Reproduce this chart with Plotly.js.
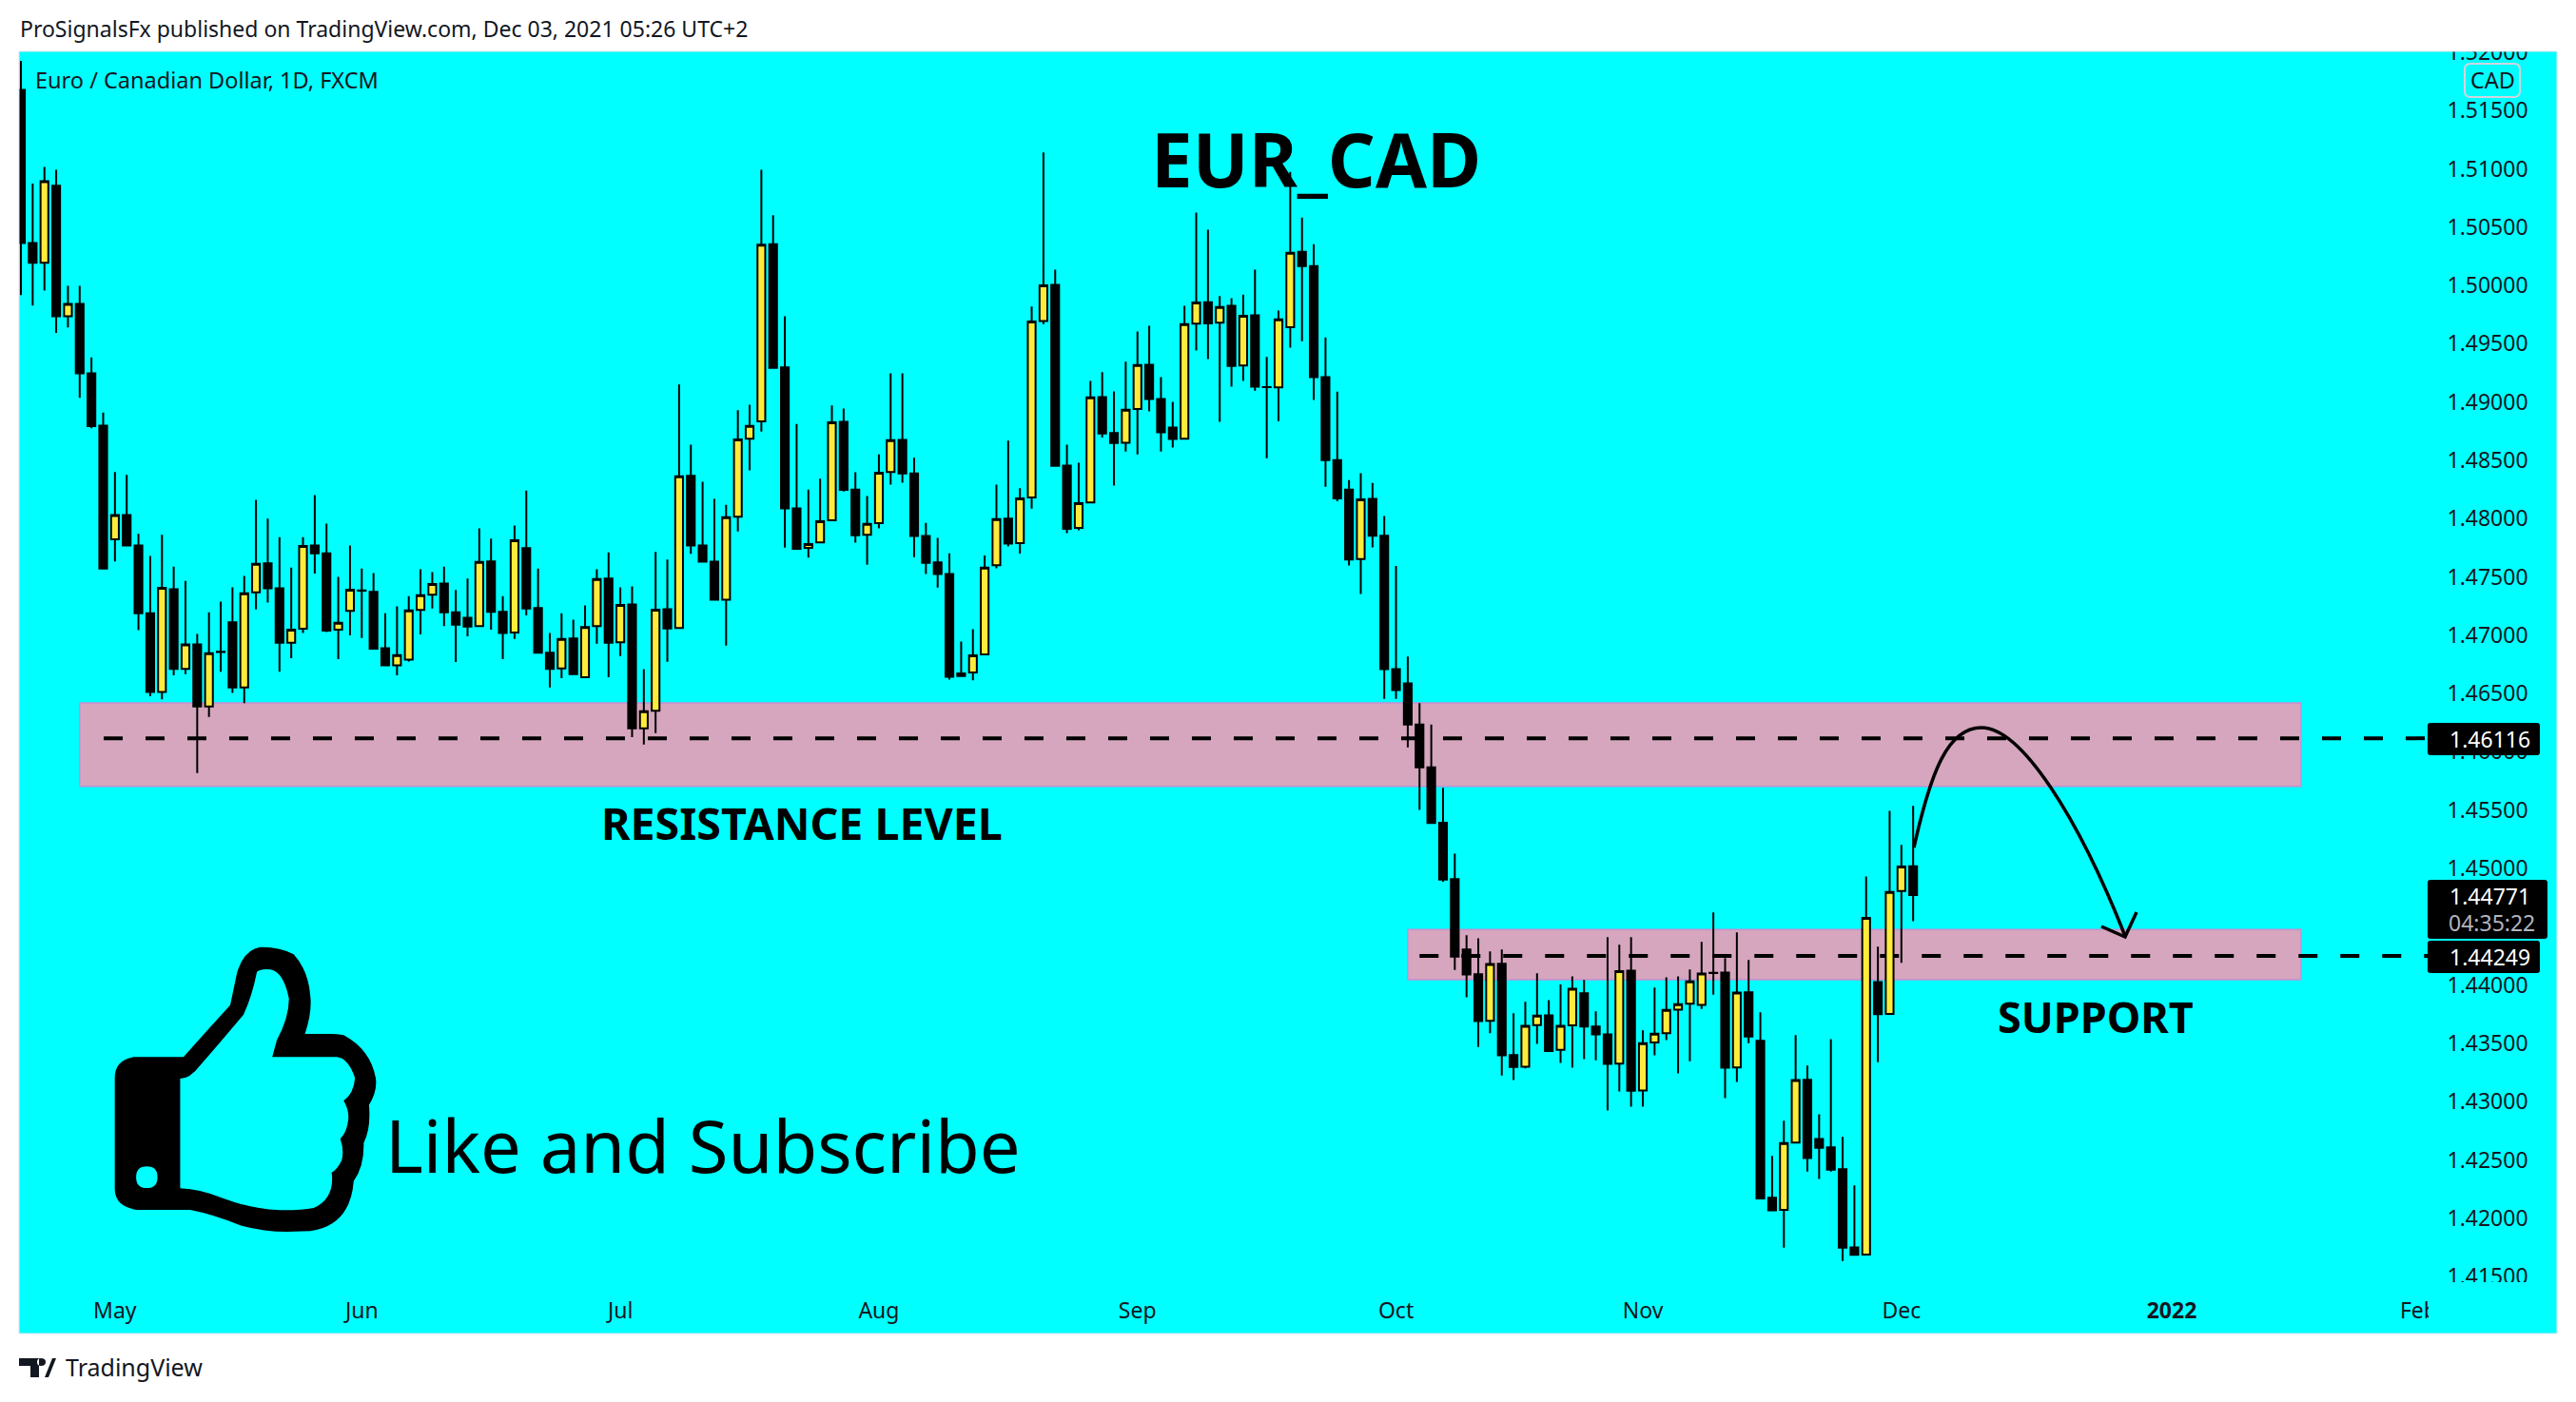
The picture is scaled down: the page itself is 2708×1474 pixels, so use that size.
<!DOCTYPE html>
<html><head><meta charset="utf-8">
<script src="https://cdn.plot.ly/plotly-3.0.1.min.js"></script>
<style>html,body{margin:0;padding:0;background:#fff}#c{width:2708px;height:1474px}</style></head>
<body><div id="c"></div>
<script>
const open_ = [
1.51676,1.50364,1.50194,1.50854,1.49735,1.49842,1.49245,1.48798,1.47822,1.48031,
1.47770,1.47189,1.46513,1.47395,1.46711,1.46920,1.46389,1.46857,1.47110,1.46552,
1.47367,1.47616,1.47402,1.46936,1.47055,1.47770,1.47703,1.47047,1.47209,1.47383,
1.47371,1.46889,1.46742,1.46790,1.47217,1.47347,1.47442,1.47197,1.47149,1.47078,
1.47632,1.47201,1.47023,1.47746,1.47232,1.46849,1.46715,1.46972,1.46639,1.47078,
1.47485,1.46940,1.47264,1.46201,1.46351,1.47223,1.47061,1.48366,1.47769,1.47631,
1.47305,1.48016,1.48685,1.48833,1.50354,1.49296,1.48088,1.47748,1.47796,1.47985,
1.48829,1.48249,1.47861,1.47961,1.48400,1.48675,1.48387,1.47851,1.47624,1.47525,
1.46649,1.46680,1.46835,1.47600,1.47999,1.47789,1.48181,1.49695,1.50004,1.48455,
1.47920,1.48139,1.49042,1.48733,1.48651,1.48939,1.49320,1.49025,1.48781,1.48685,
1.49671,1.49856,1.49681,1.49825,1.49314,1.49743,1.49128,1.49125,1.49642,1.50287,
1.50166,1.49213,1.48502,1.48248,1.47653,1.48169,1.47852,1.46708,1.46587,1.46234,
1.45867,1.45392,1.44908,1.44305,1.44092,1.43693,1.44183,1.43399,1.43300,1.43655,
1.43740,1.43443,1.43653,1.43929,1.43644,1.43577,1.43326,1.44124,1.43096,1.43507,
1.43586,1.43789,1.43839,1.43830,1.44104,1.44107,1.43294,1.43938,1.43521,1.42176,
1.42071,1.42648,1.43186,1.42680,1.42607,1.42420,1.41750,1.41689,1.44025,1.43752,
1.44806,1.45019];
const high_ = [
1.51925,1.50874,1.51016,1.50992,1.49996,1.49996,1.49383,1.48909,1.48399,1.48375,
1.47869,1.47679,1.47861,1.47588,1.47466,1.47011,1.47197,1.47288,1.47410,1.47509,
1.48161,1.47999,1.47841,1.47580,1.47841,1.48201,1.47956,1.47501,1.47770,1.47572,
1.47533,1.47189,1.47248,1.47335,1.47565,1.47541,1.47588,1.47387,1.47485,1.47916,
1.47829,1.47335,1.47940,1.48241,1.47572,1.47019,1.47189,1.47134,1.47256,1.47565,
1.47711,1.47410,1.47418,1.46708,1.47714,1.47648,1.49149,1.48634,1.48315,1.48170,
1.48119,1.48929,1.48977,1.50992,1.50601,1.49736,1.48812,1.48249,1.48342,1.48970,
1.48943,1.48397,1.48194,1.48551,1.49245,1.49245,1.48521,1.47964,1.47834,1.47703,
1.46945,1.47051,1.47683,1.48291,1.48668,1.48260,1.49818,1.51140,1.50134,1.48634,
1.48479,1.49180,1.49255,1.49090,1.49345,1.49605,1.49653,1.49214,1.49001,1.49825,
1.50625,1.50477,1.49908,1.49890,1.49921,1.50134,1.49386,1.49784,1.50973,1.50582,
1.50353,1.49554,1.49088,1.48331,1.48389,1.48306,1.48023,1.47594,1.46816,1.46417,
1.46234,1.45692,1.45127,1.44427,1.44401,1.44288,1.44305,1.43757,1.43856,1.44101,
1.43871,1.44005,1.44075,1.44043,1.43775,1.44410,1.44346,1.44410,1.43612,1.43979,
1.44066,1.44075,1.44133,1.44369,1.44623,1.44232,1.44451,1.44215,1.43766,1.42534,
1.42837,1.43571,1.43309,1.42892,1.43536,1.42697,1.42281,1.44931,1.44328,1.45494,
1.45202,1.45537];
const low_ = [
1.49917,1.49826,1.49956,1.49593,1.49640,1.49035,1.48774,1.47572,1.47632,1.47762,
1.47043,1.46477,1.46450,1.46655,1.46667,1.45818,1.46299,1.46687,1.46505,1.46418,
1.47221,1.47280,1.46687,1.46802,1.47019,1.47529,1.47027,1.46794,1.46999,1.46976,
1.46877,1.46734,1.46655,1.46774,1.47007,1.47229,1.47078,1.46770,1.46991,1.47078,
1.47047,1.46794,1.46968,1.47169,1.46849,1.46552,1.46632,1.46667,1.46639,1.46928,
1.46639,1.46821,1.46126,1.46063,1.46161,1.46773,1.47061,1.47697,1.47631,1.47305,
1.46910,1.47889,1.48414,1.48747,1.49293,1.47751,1.47734,1.47666,1.47796,1.47985,
1.48232,1.47793,1.47604,1.47916,1.48291,1.48308,1.47669,1.47525,1.47408,1.46619,
1.46643,1.46612,1.46835,1.47573,1.47762,1.47700,1.48085,1.49667,1.48452,1.47875,
1.47899,1.48139,1.48696,1.48284,1.48575,1.48551,1.48919,1.48575,1.48610,1.48685,
1.49441,1.49369,1.48829,1.49132,1.49180,1.49097,1.48517,1.48836,1.49467,1.49521,
1.49018,1.48273,1.48148,1.47598,1.47353,1.47752,1.46454,1.46454,1.46038,1.45501,
1.45381,1.44885,1.44130,1.43894,1.43469,1.43586,1.43224,1.43184,1.43285,1.43495,
1.43428,1.43332,1.43291,1.43364,1.43355,1.42924,1.43087,1.42956,1.42956,1.43396,
1.43527,1.43242,1.43347,1.43795,1.43918,1.43029,1.43169,1.43501,1.42161,1.42068,
1.41747,1.42642,1.42400,1.42336,1.42400,1.41634,1.41686,1.41689,1.43338,1.43752,
1.44191,1.44547];
const close_ = [
1.50364,1.50194,1.50893,1.49735,1.49842,1.49245,1.48794,1.47572,1.48031,1.47770,
1.47189,1.46513,1.47406,1.46711,1.46920,1.46389,1.46845,1.46856,1.46552,1.47359,
1.47612,1.47402,1.46936,1.47047,1.47766,1.47703,1.47039,1.47106,1.47391,1.47382,
1.46885,1.46742,1.46829,1.47213,1.47343,1.47438,1.47197,1.47090,1.47074,1.47628,
1.47201,1.47019,1.47814,1.47229,1.46849,1.46711,1.46968,1.46667,1.47070,1.47482,
1.46936,1.47260,1.46201,1.46348,1.47219,1.47058,1.48363,1.47769,1.47631,1.47305,
1.48012,1.48678,1.48795,1.50350,1.49293,1.48088,1.47741,1.47782,1.47978,1.48826,
1.48246,1.47858,1.47954,1.48394,1.48672,1.48387,1.47851,1.47621,1.47525,1.46643,
1.46673,1.46828,1.47580,1.47995,1.47786,1.48174,1.49691,1.50000,1.48452,1.47913,
1.48133,1.49039,1.48730,1.48648,1.48933,1.49317,1.49025,1.48740,1.48682,1.49667,
1.49853,1.49674,1.49815,1.49310,1.49739,1.49132,1.49127,1.49708,1.50279,1.50166,
1.49213,1.48502,1.48173,1.47648,1.48164,1.47852,1.46708,1.46529,1.46234,1.45867,
1.45389,1.44905,1.44244,1.44090,1.43690,1.44180,1.43396,1.43297,1.43650,1.43737,
1.43434,1.43650,1.43967,1.43644,1.43577,1.43323,1.44119,1.43093,1.43501,1.43583,
1.43787,1.43836,1.44031,1.44098,1.44103,1.43291,1.43935,1.43559,1.42170,1.42068,
1.42645,1.43184,1.42516,1.42604,1.42417,1.41747,1.41686,1.44576,1.43749,1.44797,
1.45016,1.44771];
const priceTicks = [1.415,1.42,1.425,1.43,1.435,1.44,1.445,1.45,1.455,1.46,1.465,1.47,1.475,1.48,1.485,1.49,1.495,1.5,1.505,1.51,1.515,1.52];
const monthBars = [8,29,51,73,95,117,138,160,183,204];
const monthLabels = ['May','Jun','Jul','Aug','Sep','Oct','Nov','Dec','<b>2022</b>','Feb'];
const resistanceZone = [1.45704,1.46419];
const supportZone = [1.44045,1.44475];
const resistanceLevel = 1.46116, supportLevel = 1.44249, lastPrice = 1.44771;
const countdown = '04:35:22';
const bars = open_.map((_, i) => i);

const W=2708,H=1474,L=20,R=2688,T=54,B=1402;
const FONT='"Noto Sans", sans-serif', INK='#131722';
const px=x=>(x-L)/(R-L), py=y=>(B-y)/(B-T);
function draw(str){return str.replace(/(-?[\d.]+),(-?[\d.]+)/g,(m,a,b)=>px(+a).toFixed(6)+','+py(+b).toFixed(6));}
function round(x0,y0,x1,y1,r){return draw(`M${x0+r},${y0} L${x1-r},${y0} Q${x1},${y0} ${x1},${y0+r} L${x1},${y1-r} Q${x1},${y1} ${x1-r},${y1} L${x0+r},${y1} Q${x0},${y1} ${x0},${y1-r} L${x0},${y0+r} Q${x0},${y0} ${x0+r},${y0} Z`);}
function icon(str){
  return str.replace(/(-?[\d.]+),(-?[\d.]+)/g,(m,a,b)=>px(a/1.4255).toFixed(6)+','+py(960+b/3).toFixed(6));
}
const thumb = icon(`M200,454 Q172,465 172,520 L172,870 Q172,925 205,936 L285,936 Q320,950 360,985 Q395,1005 430,1005 L465,1003 Q525,985 530,845 Q546,800 545,725 Q556,680 553,605 Q566,560 563,520 Q555,430 515,385 Q505,381 495,381 L457,381 Q468,310 465,260 Q462,180 440,130 Q420,106 390,107 Q365,115 355,190 L345,290 Q310,370 275,454 Z
M270,522 Q285,522 300,480 Q325,420 365,320 Q378,260 385,185 Q392,174 405,178 Q425,185 433,270 Q433,330 415,400 L408,454 L505,454 Q522,458 532,520 Q530,570 515,592 Q523,620 522,650 Q520,690 510,712 Q516,750 512,780 Q505,810 497,818 Q502,900 470,930 Q450,938 420,937 Q380,935 335,900 Q300,870 270,868 Z
M204,833 Q204,799 220,799 Q236,799 236,833 Q236,867 220,867 Q204,867 204,833 Z`);

const shapes=[
 {type:'rect',xref:'x',yref:'y',x0:5,x1:194,y0:resistanceZone[0],y1:resistanceZone[1],fillcolor:'#D5A6BD',line:{color:'#C68FD0',width:1.5},layer:'below'},
 {type:'rect',xref:'x',yref:'y',x0:118,x1:194,y0:supportZone[0],y1:supportZone[1],fillcolor:'#D5A6BD',line:{color:'#C68FD0',width:1.5},layer:'below'},
 {type:'line',xref:'x',yref:'y',x0:7.04,x1:205,y0:resistanceLevel,y1:resistanceLevel,line:{color:'#000',width:4,dash:'20px,24px'},layer:'below'},
 {type:'line',xref:'x',yref:'y',x0:119,x1:205,y0:supportLevel,y1:supportLevel,line:{color:'#000',width:4,dash:'20px,24px'},layer:'below'},
 {type:'path',xref:'paper',yref:'paper',layer:'above',line:{color:'#000',width:3.5},fillcolor:'rgba(0,0,0,0)',
  path:draw('M2012,891 C2030,810 2048,765 2083,765 C2125,765 2185,860 2234,984')},
 {type:'path',xref:'paper',yref:'paper',layer:'above',line:{color:'#000',width:3.5},fillcolor:'rgba(0,0,0,0)',
  path:draw('M2209,974 L2234,985 L2246,959')},
 {type:'path',xref:'paper',yref:'paper',layer:'above',line:{width:0},fillcolor:'#000',fillrule:'evenodd',path:thumb},
 {type:'path',xref:'paper',yref:'paper',layer:'above',line:{width:0},fillcolor:'#000',path:round(2552,760,2670,794,3)},
 {type:'path',xref:'paper',yref:'paper',layer:'above',line:{width:0},fillcolor:'#000',path:round(2552,925,2678,987,3)},
 {type:'path',xref:'paper',yref:'paper',layer:'above',line:{width:0},fillcolor:'#000',path:round(2552,989,2670,1023,3)},
 {type:'path',xref:'paper',yref:'paper',layer:'above',line:{color:'#D1D4DC',width:2},fillcolor:'rgba(0,0,0,0)',path:round(2591,67,2649,102,6)},
 {type:'rect',xref:'paper',yref:'paper',x0:0,x1:1,y0:0,y1:1,layer:'above',line:{color:'#E0E3EB',width:1},fillcolor:'rgba(0,0,0,0)'},
 {type:'path',xref:'paper',yref:'paper',layer:'above',line:{width:0},fillcolor:INK,
  path:draw('M20,1428 L41,1428 L41,1448 L32,1448 L32,1436 L20,1436 Z M47,1448 L55,1428 L59,1428 L51,1448 Z M43,1428 Q48,1428 48,1432 Q48,1436 43,1436 Q39,1436 39,1432 Q39,1428 43,1428 Z')},
];
function note(text,x,y,size,opt={}){return Object.assign({xref:'paper',yref:'paper',x:px(x),y:py(y),text,showarrow:false,xanchor:'left',yanchor:'middle',align:'left',font:{family:FONT,size,color:INK}},opt);}
const annotations=[
 note('ProSignalsFx published on TradingView.com, Dec 03, 2021 05:26 UTC+2',19,30,23),
 note('Euro / Canadian Dollar, 1D, FXCM',35,84,23.5),
 note('<b>EUR_CAD</b>',1383,167,78,{xanchor:'center',font:{family:FONT,size:78,color:'#000'}}),
 note('<b>RESISTANCE LEVEL</b>',843,865,46.5,{xanchor:'center',font:{family:FONT,size:46.5,color:'#000'}}),
 note('<b>SUPPORT</b>',2203,1068,45,{xanchor:'center',font:{family:FONT,size:45,color:'#000'}}),
 note('Like and Subscribe',403,1203,76,{font:{family:FONT,size:76,color:'#000'}}),
 note('CAD',2620,84,23.5,{xanchor:'center'}),
 note(resistanceLevel.toFixed(5),2573,777,23,{font:{family:FONT,size:23,color:'#fff'}}),
 note(lastPrice.toFixed(5),2573,942,23,{font:{family:FONT,size:23,color:'#fff'}}),
 note(countdown,2572,970,23,{font:{family:FONT,size:23,color:'#b2b5be'}}),
 note(supportLevel.toFixed(5),2573,1006,23,{font:{family:FONT,size:23,color:'#fff'}}),
 note('TradingView',67,1437,25,{font:{family:FONT,size:25,color:INK}}),
];
const trace={type:'candlestick',x:bars,open:open_,high:high_,low:low_,close:close_,whiskerwidth:0,
 increasing:{line:{color:'#000',width:2},fillcolor:'#FFEB3B'},
 decreasing:{line:{color:'#000',width:2},fillcolor:'#000'},hoverinfo:'skip'};
const layout={width:W,height:H,autosize:false,margin:{l:L,r:W-R,t:T,b:H-B,pad:0},
 paper_bgcolor:'#fff',plot_bgcolor:'#00FFFF',showlegend:false,boxgap:0.34,boxgroupgap:0,
 font:{family:FONT,color:INK},shapes,annotations,
 xaxis:{type:'linear',range:[-0.162,215.78],rangeslider:{visible:false},showgrid:false,zeroline:false,showline:false,
  tickmode:'array',tickvals:monthBars,ticktext:monthLabels,ticks:'inside',ticklen:13,tickcolor:'rgba(0,0,0,0)',
  ticklabelposition:'inside',ticklabeloverflow:'allow',tickfont:{family:FONT,size:23,color:INK}},
 yaxis:{side:'right',type:'linear',range:[1.41011,1.52007],showgrid:false,zeroline:false,showline:false,
  tickmode:'array',tickvals:priceTicks,ticktext:priceTicks.map(v=>v.toFixed(5)),ticks:'inside',ticklen:32,tickcolor:'rgba(0,0,0,0)',
  ticklabelposition:'inside',ticklabeloverflow:'allow',tickfont:{family:FONT,size:23,color:INK}}};
Plotly.newPlot('c',[trace],layout,{displayModeBar:false,staticPlot:true}).then(gd=>{
  const NS='http://www.w3.org/2000/svg', svg=gd.querySelector('.main-svg');
  const clip=(id,x,y,w,h,sel)=>{
    const cp=document.createElementNS(NS,'clipPath');cp.setAttribute('id',id);
    const r=document.createElementNS(NS,'rect');r.setAttribute('x',x);r.setAttribute('y',y);r.setAttribute('width',w);r.setAttribute('height',h);
    cp.appendChild(r);svg.querySelector('defs').appendChild(cp);
    gd.querySelectorAll(sel).forEach(g=>g.setAttribute('clip-path','url(#'+id+')'));
  };
  clip('clipPriceTicks',2400,T,300,1348-T,'.yaxislayer-above');
  clip('clipTimeTicks',0,1340,2553,120,'.xaxislayer-above');
});
</script></body></html>
